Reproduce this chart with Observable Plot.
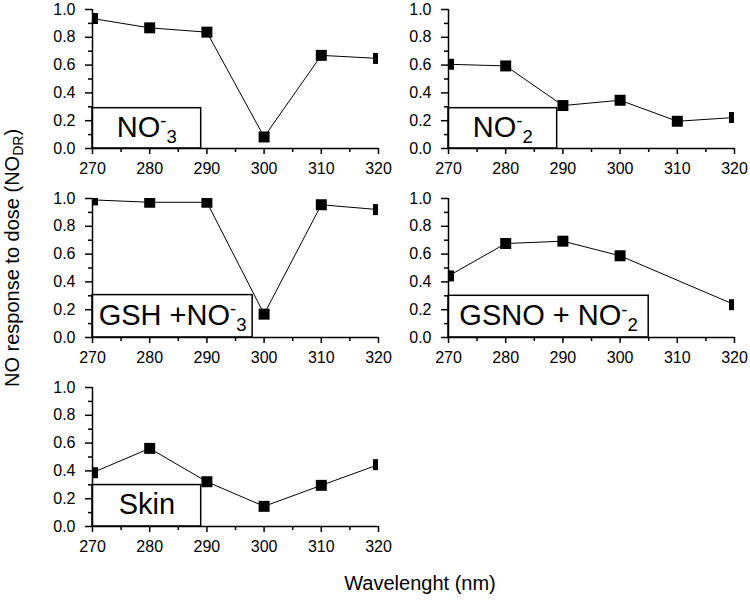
<!DOCTYPE html>
<html>
<head>
<meta charset="utf-8">
<script src="https://cdn.jsdelivr.net/npm/d3@7"></script>
<script src="https://cdn.jsdelivr.net/npm/@observablehq/plot@0.6"></script>
<style>
  body { margin: 0; background: #fff; }
  #wrap { position: relative; width: 750px; height: 600px; overflow: hidden; background: #fff;
          font-family: "Liberation Sans", Arial, sans-serif; }
  #wrap > svg, #wrap > div { position: absolute; }
</style>
</head>
<body>
<div id="wrap"></div>
<script>
// ---- data ----
const wavelengths = [270, 280, 290, 300, 310, 320];
const gsnoWavelengths = [270, 280, 290, 300, 320];
const no3 = [0.935, 0.868, 0.837, 0.083, 0.67, 0.648];
const no2 = [0.606, 0.594, 0.309, 0.347, 0.196, 0.223];
const gshNo3 = [0.99, 0.973, 0.973, 0.168, 0.955, 0.92];
const gsnoNo2 = [0.443, 0.676, 0.693, 0.588, 0.236];
const skin = [0.387, 0.562, 0.322, 0.145, 0.296, 0.445];

const labelBase = ["NO", "NO", "GSH +NO", "GSNO + NO", "Skin"];
const labelSup = ["-", "-", "-", "-", ""];
const labelSub = ["3", "2", "3", "2", ""];
const boxRight = [289, 289, 298, 305, 289];
const boxTop = [0.29, 0.29, 0.305, 0.30, 0.298];

const xDomain = [270, 320];
const yDomain = [0, 1];
const xTicks = [270, 280, 290, 300, 310, 320];
const xMinor = [275, 285, 295, 305, 315];
const yTicks = [0, 0.2, 0.4, 0.6, 0.8, 1.0];
const yMinor = [0.1, 0.3, 0.5, 0.7, 0.9];

const seriesX = [wavelengths, wavelengths, wavelengths, gsnoWavelengths, wavelengths];
const seriesY = [no3, no2, gshNo3, gsnoNo2, skin];

const yTitle = "NO response to dose (NO";
const yTitleSub = "DR";
const xTitle = "Wavelenght (nm)";

// ---- layout ----
const FONT = '"Liberation Sans", Arial, sans-serif';
const ML = 50, MR = 11, MT = 12, MB = 32, W = 347, H = 183;
const pos = [[42, -3], [398, -3], [42, 186], [398, 186], [42, 375]];

const wrap = document.getElementById("wrap");

seriesY.forEach((ys, i) => {
  const pts = ys.map((v, j) => ({x: seriesX[i][j], y: v}));
  const box = [{x1: xDomain[0], x2: boxRight[i], y1: yDomain[0], y2: boxTop[i],
                cx: (xDomain[0] + boxRight[i]) / 2, cy: boxTop[i] / 2, label: labelBase[i]}];
  const chart = Plot.plot({
    width: W, height: H,
    marginLeft: ML, marginRight: MR, marginTop: MT, marginBottom: MB,
    x: {domain: xDomain},
    y: {domain: yDomain},
    style: {fontFamily: FONT, fontSize: "16px", color: "black", background: "transparent", overflow: "visible"},
    marks: [
      Plot.rect(box, {x1: "x1", x2: "x2", y1: "y1", y2: "y2", fill: "white", stroke: "black", strokeWidth: 1.5}),
      Plot.text(box, {x: "cx", y: "cy", text: "label", fontSize: 29, fill: "black", dy: -1}),
      Plot.line(pts, {x: "x", y: "y", stroke: "black", strokeWidth: 1, clip: true}),
      Plot.dot(pts, {x: "x", y: "y", symbol: "square", r: 6.2, fill: "black", stroke: "none", clip: true}),
      Plot.axisY(yMinor, {tickSize: 4, tickFormat: () => "", strokeWidth: 1.5}),
      Plot.axisY(yTicks, {tickSize: 7, tickPadding: 10, tickFormat: d3.format(".1f"), strokeWidth: 1.5, fontSize: 16}),
      Plot.axisX(xMinor, {tickSize: 4, tickFormat: () => "", strokeWidth: 1.5}),
      Plot.axisX(xTicks, {tickSize: 6, tickPadding: 8, tickFormat: d3.format("d"), strokeWidth: 1.5, fontSize: 16}),
      Plot.ruleY([yDomain[0]], {stroke: "black", strokeWidth: 1.5}),
      Plot.ruleX([xDomain[0]], {stroke: "black", strokeWidth: 1.5})
    ]
  });
  // add superscript / subscript parts to the label
  d3.select(chart).selectAll("text").each(function() {
    if (this.textContent === labelBase[i] && labelSup[i]) {
      const t = d3.select(this);
      t.append("tspan").attr("font-size", "0.64em").attr("dy", "-0.5em").text(labelSup[i]);
      t.append("tspan").attr("font-size", "0.64em").attr("dy", "0.85em").text(labelSub[i]);
    }
  });
  chart.style.left = pos[i][0] + "px";
  chart.style.top = pos[i][1] + "px";
  chart.style.position = "absolute";
  wrap.appendChild(chart);
});

// ---- titles ----
const titles = d3.select(wrap).append("svg")
  .attr("width", 750).attr("height", 600)
  .style("left", "0px").style("top", "0px").style("pointer-events", "none")
  .style("font-family", FONT);
const yt = titles.append("text")
  .attr("transform", "translate(19,258) rotate(-90)")
  .attr("text-anchor", "middle")
  .attr("font-size", 20)
  .attr("fill", "black")
  .text(yTitle);
yt.append("tspan").attr("font-size", "0.7em").attr("dy", "0.3em").text(yTitleSub);
yt.append("tspan").attr("dy", "-0.21em").text(")");
titles.append("text")
  .attr("x", 420).attr("y", 590)
  .attr("text-anchor", "middle")
  .attr("font-size", 20)
  .attr("fill", "black")
  .text(xTitle);
</script>
</body>
</html>
